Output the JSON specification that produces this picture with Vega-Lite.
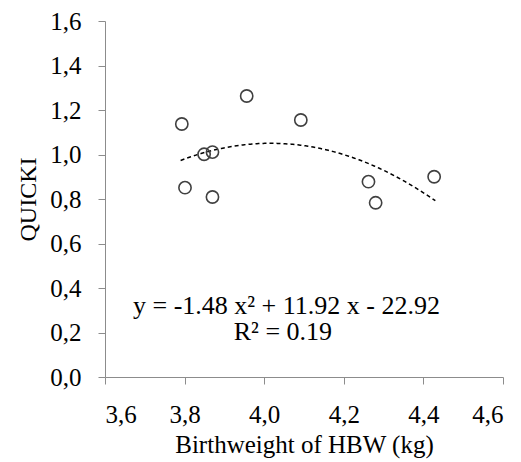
{
  "$schema": "https://vega.github.io/schema/vega-lite/v6.json",
  "width": 398,
  "height": 356,
  "autosize": {"type": "none"},
  "padding": {"left": 105, "top": 21, "right": 18, "bottom": 85},
  "background": "white",
  "config": {
    "view": {"stroke": null},
    "axis": {"grid": false, "domainColor": "#8c8c8c", "tickColor": "#8c8c8c", "tickSize": 7, "labelColor": "#000", "titleColor": "#000", "titleFontWeight": "normal"}
  },
  "datasets": {
    "pts": [
      {"bw": 3.793, "q": 1.137},
      {"bw": 3.956, "q": 1.263},
      {"bw": 4.092, "q": 1.155},
      {"bw": 3.849, "q": 1.001},
      {"bw": 3.870, "q": 1.011},
      {"bw": 3.801, "q": 0.851},
      {"bw": 3.870, "q": 0.809},
      {"bw": 4.262, "q": 0.878},
      {"bw": 4.280, "q": 0.783},
      {"bw": 4.427, "q": 0.900}
    ],
    "notes": [
      {"bw": 4.056, "q": 0.285, "label": "y = -1.48 x² + 11.92 x - 22.92"},
      {"bw": 4.047, "q": 0.166, "label": "R² = 0.19"}
    ]
  },
  "layer": [
    {
      "data": {"name": "pts"},
      "transform": [{"regression": "q", "on": "bw", "method": "poly", "order": 2, "extent": [3.79, 4.43]}],
      "mark": {"type": "line", "color": "#000", "strokeWidth": 1.5, "strokeDash": [4, 3]},
      "encoding": {
        "x": {"field": "bw", "type": "quantitative"},
        "y": {"field": "q", "type": "quantitative"}
      }
    },
    {
      "data": {"name": "pts"},
      "mark": {"type": "point", "shape": "circle", "filled": false, "size": 150, "stroke": "#404040", "strokeWidth": 1.6, "opacity": 1},
      "encoding": {
        "x": {
          "field": "bw", "type": "quantitative",
          "scale": {"domain": [3.6, 4.6], "nice": false, "zero": false},
          "axis": {
            "title": "Birthweight of HBW (kg)",
            "values": [3.6, 3.7, 3.8, 3.9, 4.0, 4.1, 4.2, 4.3, 4.4, 4.5, 4.6],
            "labelExpr": "round(datum.value*10) % 2 == 0 ? replace(format(datum.value, '.1f'), '.', ',') : ''",
            "labelFont": "Liberation Serif", "labelFontSize": 25,
            "titleFont": "serif", "titleFontSize": 25,
            "labelPadding": 18,
            "titlePadding": 5
          }
        },
        "y": {
          "field": "q", "type": "quantitative",
          "scale": {"domain": [0, 1.6], "nice": false},
          "axis": {
            "title": "QUICKI",
            "values": [0, 0.1, 0.2, 0.3, 0.4, 0.5, 0.6, 0.7, 0.8, 0.9, 1.0, 1.1, 1.2, 1.3, 1.4, 1.5, 1.6],
            "labelExpr": "round(datum.value*10) % 2 == 0 ? replace(format(datum.value, '.1f'), '.', ',') : ''",
            "labelFont": "Liberation Serif", "labelFontSize": 25,
            "titleFont": "serif", "titleFontSize": 24,
            "labelPadding": 17,
            "titlePadding": 9
          }
        }
      }
    },
    {
      "data": {"name": "notes"},
      "mark": {"type": "text", "fontSize": 26, "font": "serif", "color": "#000", "align": "center", "baseline": "alphabetic"},
      "encoding": {
        "x": {"field": "bw", "type": "quantitative"},
        "y": {"field": "q", "type": "quantitative"},
        "text": {"field": "label"}
      }
    }
  ]
}
